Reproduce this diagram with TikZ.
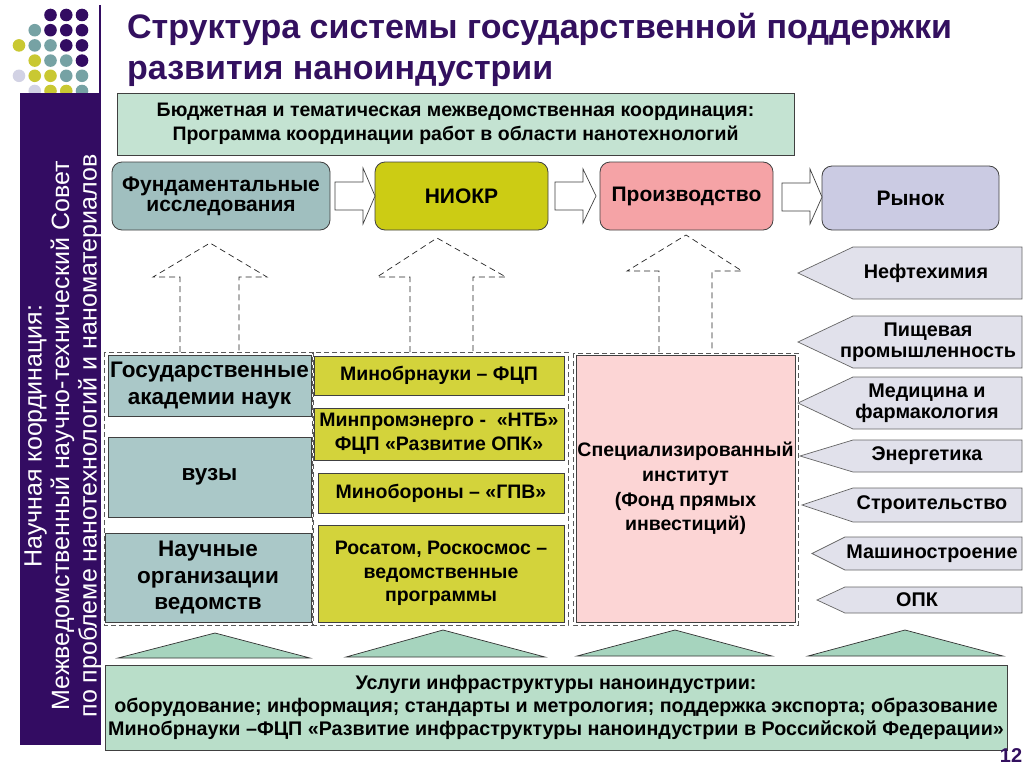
\documentclass[tikz,border=0pt]{standalone}
\usepackage{fontspec}
\setmainfont{Liberation Sans}
\usetikzlibrary{calc}
\definecolor{dP}{HTML}{330C62}
\definecolor{dT}{HTML}{76A2A4}
\definecolor{dY}{HTML}{C9C832}
\definecolor{dL}{HTML}{D2D2E4}
\definecolor{titlecol}{HTML}{33105F}
\definecolor{cMint}{HTML}{C4E3D2}
\definecolor{cFund}{HTML}{A0BFBF}
\definecolor{cNiokr}{HTML}{CCCC14}
\definecolor{cProd}{HTML}{F5A3A6}
\definecolor{cMarket}{HTML}{CBCBE3}
\definecolor{cLeft}{HTML}{AAC8C8}
\definecolor{cMid}{HTML}{D3D33B}
\definecolor{cPink}{HTML}{FCD5D5}
\definecolor{cInd}{HTML}{E1E1EB}
\definecolor{cTri}{HTML}{A6D4BE}
\definecolor{cInfra}{HTML}{B9DEC9}
\newcommand\fsz[2]{\fontsize{#1}{#2}\selectfont}
\begin{document}
\begin{tikzpicture}[x=1pt,y=-1pt,
  proc/.style={draw=black!75, line width=0.8pt, rounded corners=10pt, align=center, inner sep=0pt, font=\fsz{21}{20}\bfseries},
  sbox/.style={draw=black!75, line width=0.7pt, align=center, inner sep=0pt},
  barrow/.style={draw=black!75, fill=white, line width=0.7pt},
  uparrow/.style={draw=black!85, line width=0.7pt, dash pattern=on 6pt off 4pt},
  dgroup/.style={draw=black!65, line width=0.7pt, dash pattern=on 5pt off 3pt},
  indshape/.style={draw=black!60, fill=cInd, line width=0.7pt},
  indtxt/.style={align=center, inner sep=0pt, font=\fsz{19.8}{20.5}\bfseries},
  tri/.style={draw=black!80, fill=cTri, line width=0.7pt}]
\useasboundingbox (0,0) rectangle (1024,768);
\fill[white] (0,0) rectangle (1024,768);
% decorative dots
\foreach \r/\c/\col in {1/3/dP,1/4/dP,1/5/dP,
  2/2/dT,2/3/dP,2/4/dP,2/5/dP,
  3/1/dY,3/2/dT,3/3/dT,3/4/dP,3/5/dP,
  4/2/dY,4/3/dT,4/4/dT,4/5/dP,
  5/1/dL,5/2/dY,5/3/dY,5/4/dT,5/5/dT,
  6/2/dL,6/3/dY,6/4/dY,6/5/dT}
  \fill[\col] ({19+(\c-1)*15.75},{15+(\r-1)*15.2}) circle (6.3pt);
\draw[dP, line width=2.5pt] (100,5) -- (100,94);
% left panel
\fill[dP] (20,93) rectangle (101,745);
\node[rotate=90, text=white, align=center, inner sep=0pt, font=\fsz{25}{27.5}] (council) at (63,436)
  {Научная координация:\\Межведомственный научно-технический Совет\\по проблеме нанотехнологий и наноматериалов};
% title
\node[anchor=north west, align=left, inner sep=0pt, text=titlecol, font=\fsz{34}{41}\bfseries] (title) at (127,13)
  {Структура системы государственной поддержки\\развития наноиндустрии};
% budget coordination
\node[sbox, fill=cMint, minimum width=677pt, minimum height=62pt, font=\fsz{19.5}{24}\bfseries] (budget) at (455.5,124)
  {Бюджетная и тематическая межведомственная координация:\\Программа координации работ в области нанотехнологий};
% process chain
\node[proc, fill=cFund, minimum width=218pt, minimum height=68pt] (fund) at (221,196) {Фундаментальные\\исследования};
\node[proc, fill=cNiokr, minimum width=173pt, minimum height=68pt] (niokr) at (461.5,196) {НИОКР};
\node[proc, fill=cProd, minimum width=173pt, minimum height=68pt] (prod) at (686.5,196) {Производство};
\node[proc, fill=cMarket, minimum width=177pt, minimum height=64pt] (market) at (910.5,198) {Рынок};
\draw[barrow] (335,182) -- (363,182) -- (363,168) -- (375,196) -- (363,224) -- (363,210) -- (335,210) -- cycle;
\draw[barrow] (555,182) -- (583,182) -- (583,169) -- (596,196) -- (583,223) -- (583,210) -- (555,210) -- cycle;
\draw[barrow] (782,183) -- (810,183) -- (810,169) -- (822,197) -- (810,224) -- (810,211) -- (782,211) -- cycle;
% dashed up arrows
\draw[uparrow] (180,352) -- (180,277) -- (153,277) -- (210,243) -- (267,277) -- (239,277) -- (239,352);
\draw[uparrow] (410,352) -- (410,277) -- (377,277) -- (437,238) -- (506,277) -- (473,277) -- (473,352);
\draw[uparrow] (659,352) -- (659,271) -- (627,271) -- (686,235) -- (742,271) -- (712,271) -- (712,352);
% groups
\draw[dgroup] (104,352) rectangle (312,625);
\draw[dgroup] (313,352) rectangle (568,625);
\draw[dgroup] (573,353) rectangle (798,625);
% left column
\node[sbox, fill=cLeft, minimum width=203pt, minimum height=61pt, font=\fsz{22.5}{27}\bfseries] (acad) at (209.5,385.5) {Государственные\\академии наук};
\node[sbox, fill=cLeft, minimum width=203pt, minimum height=80pt, font=\fsz{22.5}{27}\bfseries] (vuz) at (209.5,477) {вузы};
\node[sbox, fill=cLeft, minimum width=206pt, minimum height=89pt, font=\fsz{22.5}{26.5}\bfseries] (orgs) at (208,577.5) {Научные\\организации\\ведомств};
% middle column
\node[sbox, fill=cMid, minimum width=250pt, minimum height=39pt, font=\fsz{19.5}{24}\bfseries] (m1) at (439,375.5) {Минобрнауки – ФЦП};
\node[sbox, fill=cMid, minimum width=250pt, minimum height=52pt, font=\fsz{19.5}{24}\bfseries] (m2) at (439,434) {Минпромэнерго -~~«НТБ»\\ФЦП «Развитие ОПК»};
\node[sbox, fill=cMid, minimum width=246pt, minimum height=40pt, font=\fsz{19.5}{24}\bfseries] (m3) at (441,493) {Минобороны – «ГПВ»};
\node[sbox, fill=cMid, minimum width=246pt, minimum height=97pt, font=\fsz{19.5}{23.5}\bfseries] (m4) at (441,573.5) {Росатом, Роскосмос –\\ведомственные\\программы};
% right column
\node[sbox, fill=cPink, minimum width=219pt, minimum height=267pt, font=\fsz{19.5}{24.7}\bfseries] (fund2) at (685.5,488.5)
  {Специализированный\\институт\\(Фонд прямых\\инвестиций)};
% industries
\newcommand\indarrow[7]{%
  \draw[indshape] (1022,#3) -- (#5,#3) -- (#2,{(#3+#4)/2}) -- (#5,#4) -- (1022,#4) -- cycle;
  \node[indtxt] (#1) at (#7,{(#3+#4)/2}) {#6};}
\indarrow{petro}{798}{247}{299}{853}{Нефтехимия}{926}
\indarrow{food}{798}{316}{368}{853}{Пищевая\\промышленность}{928}
\indarrow{med}{798}{377}{429}{853}{Медицина и\\фармакология}{927}
\indarrow{energy}{800}{440}{472}{853}{Энергетика}{927}
\indarrow{constr}{802}{488}{522}{853}{Строительство}{932}
\indarrow{mach}{812}{537}{570}{845}{Машиностроение}{932}
\indarrow{opk}{817}{587}{613}{845}{ОПК}{917}
% triangles
\draw[tri] (118,658) -- (215,633) -- (310,658) -- cycle;
\draw[tri] (346,657) -- (443,630) -- (545,657) -- cycle;
\draw[tri] (577,656) -- (675,630) -- (772,656) -- cycle;
\draw[tri] (808,656) -- (905,630) -- (1003,656) -- cycle;
% infrastructure
\node[sbox, fill=cInfra, minimum width=902pt, minimum height=85pt, font=\fsz{19.7}{23}\bfseries] (infra) at (556,707.5)
  {Услуги инфраструктуры наноиндустрии:\\оборудование; информация; стандарты и метрология; поддержка экспорта; образование\\Минобрнауки –ФЦП «Развитие инфраструктуры наноиндустрии в Российской Федерации»};
\node[inner sep=0pt, text=titlecol, font=\fsz{20}{20}\bfseries] (page) at (1011,756) {12};
\end{tikzpicture}
\end{document}
